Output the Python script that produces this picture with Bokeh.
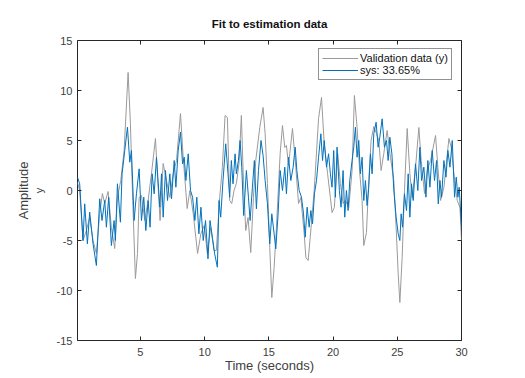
from bokeh.plotting import figure
from bokeh.models import Range1d, LinearAxis, FixedTicker, Title, Legend, LegendItem, PrintfTickFormatter
from bokeh.embed import file_html
from bokeh.resources import INLINE

# ---- data ----
gray_t = [0.1, 0.27, 0.53, 0.79, 1.05, 1.31, 1.57, 1.83, 2.04, 2.22, 2.48, 2.74, 3.00, 3.21, 3.47,
          3.73, 4.04, 4.22, 4.40, 4.61, 4.77, 4.90, 5.08, 5.34, 5.60, 5.86, 6.17, 6.38, 6.53, 6.77,
          7.03, 7.29, 7.55, 7.81, 8.12, 8.33, 8.64, 8.85, 9.11, 9.45, 9.71, 9.97, 10.21, 10.47,
          10.73, 10.91, 11.17, 11.38, 11.59, 11.77, 11.95, 12.11, 12.29, 12.47, 12.68, 12.86,
          13.02, 13.20, 13.38, 13.59, 13.80, 13.98, 14.29, 14.55, 14.71, 14.89, 15.07, 15.23,
          15.41, 15.59, 15.88, 16.06, 16.24, 16.37, 16.53, 16.84, 17.10, 17.31, 17.49, 17.75,
          17.88, 18.06, 18.22, 18.53, 18.87, 19.10, 19.31, 19.57, 19.79, 19.92, 20.10, 20.36,
          20.57, 20.78, 20.96, 21.22, 21.48, 21.66, 21.87, 22.08, 22.26, 22.39, 22.60, 22.78,
          22.96, 23.17, 23.38, 23.56, 23.74, 23.95, 24.21, 24.47, 24.73, 24.91, 25.07, 25.20,
          25.38, 25.56, 25.77, 25.98, 26.16, 26.42, 26.68, 26.86, 27.12, 27.33, 27.59, 27.98,
          28.16, 28.37, 28.63, 29.02, 29.20, 29.46, 29.67, 29.88, 30.0]
gray_v = [0.8, 0.0, -5.0, -4.0, -2.7, -5.0, -6.3, -2.3, -0.3, -1.3, -0.1, -3.7, -5.8, -0.7, 1.0,
          4.0, 11.8, 6.7, -1.0, -8.8, -6.3, -0.7, -0.5, -3.0, -1.0, 1.7, 5.2, 0.3, -3.0, 2.7,
          1.0, -0.7, 1.7, 3.0, 7.7, 3.3, -1.8, 0.0, -2.3, -6.3, -4.3, -3.5, -6.3, -3.7,
          -6.0, -6.0, -0.7, 2.3, 7.5, 7.3, -1.0, -1.3, 0.0, 0.7, 2.7, 7.5,
          1.0, -4.0, -2.7, -6.2, -0.7, 3.0, 6.3, 8.3, 5.7, 0.7, -5.7, -10.7,
          -7.7, -3.7, 3.7, 6.5, 4.3, 4.5, 2.5, 6.2, 2.3, -1.3, -0.7, -4.3,
          -6.7, -7.0, -4.7, 0.0, 7.2, 9.3, 4.7, 1.7, -0.7, -2.2, -1.7, 3.7,
          0.7, -1.3, -1.0, -1.7, 2.0, 9.5, 6.3, 1.7, -1.0, -5.5, -4.2, 1.0,
          5.0, 6.4, 5.7, 5.0, 2.0, 3.7, 6.0, 3.3, 1.0, -3.7, -8.3, -11.2,
          -6.7, 0.0, 6.2, 1.7, -0.7, 2.3, 6.3, 3.0, -0.3, 2.0, 3.0, 5.5,
          2.3, -1.0, 0.3, 5.2, 4.3, 1.0, -1.0, -1.7, -5.0]

blue_t = [0.1, 0.27, 0.53, 0.66, 0.87, 1.05, 1.31, 1.57, 1.83, 2.01, 2.22, 2.35, 2.53, 2.74, 2.95,
          3.05, 3.21, 3.44, 3.57, 3.78, 3.99, 4.17, 4.30, 4.51, 4.69, 4.90, 5.08, 5.26, 5.42,
          5.60, 5.75, 5.91, 6.07, 6.25, 6.51, 6.64, 6.77, 6.95, 7.11, 7.29, 7.42, 7.63, 7.76,
          7.94, 8.12, 8.28, 8.41, 8.54, 8.72, 8.90, 9.06, 9.24, 9.39, 9.55, 9.71, 9.89, 10.07,
          10.26, 10.42, 10.60, 10.78, 10.99, 11.12, 11.25, 11.43, 11.64, 11.82, 11.95, 12.08,
          12.21, 12.37, 12.47, 12.63, 12.76, 12.89, 13.04, 13.25, 13.41, 13.54, 13.72, 13.87,
          14.03, 14.19, 14.39, 14.55, 14.71, 14.89, 15.07, 15.23, 15.41, 15.54, 15.72, 15.88,
          16.06, 16.24, 16.37, 16.53, 16.71, 16.89, 17.05, 17.18, 17.36, 17.54, 17.70, 17.83,
          17.98, 18.14, 18.27, 18.40, 18.55, 18.71, 18.87, 19.05, 19.18, 19.31, 19.49, 19.65,
          19.79, 19.92, 20.05, 20.18, 20.31, 20.49, 20.62, 20.78, 20.91, 21.04, 21.17, 21.30,
          21.48, 21.61, 21.74, 21.87, 22.0, 22.13, 22.26, 22.39, 22.52, 22.65, 22.78, 22.91,
          23.04, 23.17, 23.35, 23.51, 23.64, 23.82, 24.0, 24.16, 24.29, 24.42, 24.58, 24.73,
          24.91, 25.07, 25.20, 25.30, 25.41, 25.56, 25.72, 25.85, 25.98, 26.11, 26.24, 26.42,
          26.60, 26.76, 26.89, 27.07, 27.23, 27.38, 27.54, 27.72, 27.90, 28.06, 28.19, 28.32,
          28.45, 28.63, 28.79, 28.94, 29.10, 29.28, 29.46, 29.59, 29.72, 29.82, 30.0]
blue_v = [1.33, 0.67, -5.0, -1.33, -5.33, -2.17, -5.33, -7.5, -0.83, -3.0, -1.0, -3.67, -0.67, -5.5, -3.0,
          -5.0, 0.67, -3.17, 1.67, 4.0, 6.33, 2.83, 4.0, -3.0, -0.33, 2.17, -3.0, -0.67, -4.0,
          -1.0, -3.67, 1.67, -0.33, 3.33, -1.67, 1.67, -2.67, 2.0, -1.0, 1.67, -0.83, 3.0, 0.33,
          4.0, 5.83, 2.67, 3.33, 1.0, 3.67, 0.0, -0.67, -3.0, -0.67, -4.33, -1.67, -5.0, -3.0,
          -6.83, -3.0, -4.67, -6.33, -7.67, -1.0, -2.67, 1.0, 4.67, 1.67, -0.67, 3.0,
          0.67, 3.67, 1.67, 3.0, 5.0, 2.33, -2.5, 2.0, -0.67, -3.0, 0.33, 3.0,
          -1.83, 2.0, 5.0, 3.5, 1.0, -1.33, -5.33, -2.33, -4.33, -5.83, -2.33, 2.0,
          0.0, 2.33, -0.33, 3.33, 1.0, 2.33, 4.33, 2.0, 0.0, -0.67, -2.33, -4.67,
          -1.67, -3.67, -2.0, -3.33, -0.33, 1.0, 3.33, 5.67, 3.0, 5.0, 2.33, 3.67,
          1.67, 0.33, 4.0, -0.67, 4.33, 0.0, -1.67, 2.0, -2.67, 0.0, -2.0, 1.0,
          3.0, 4.33, 6.33, 3.33, 5.0, 1.67, 3.33, -1.0, 1.0, -1.5, 0.33, 3.67,
          1.67, 5.67, 6.83, 4.33, 5.33, 7.17, 4.33, 5.0, 3.0, 5.33, 3.67, 0.0,
          -2.67, -4.33, -5.0, -2.33, -3.67, -0.33, -2.0, 1.67, -2.67, 0.67, -1.0, 2.67,
          0.0, 4.33, 1.0, 2.33, -0.67, 3.0, 0.33, 4.0, 1.0, 3.0, -1.33, 1.0,
          -0.67, 3.0, 1.33, 4.0, 2.33, 5.0, -0.67, 1.33, -0.67, 0.33, -3.67]

x_ticks = [5, 10, 15, 20, 25, 30]
y_ticks = [-15, -10, -5, 0, 5, 10, 15]
legend_labels = ["Validation data (y)", "sys: 33.65%"]

FONT = "Liberation Sans"
AX = "#262626"
TXT = "#404040"

p = figure(frame_width=384, frame_height=300,
           x_range=Range1d(0.1, 30), y_range=Range1d(-15, 15),
           output_backend="svg", toolbar_location=None,
           min_border_left=77, min_border_right=45, min_border_top=40, min_border_bottom=26,
           background_fill_color="white", border_fill_color="white")

p.title.text = "Fit to estimation data"
p.title.align = "center"
p.title.text_font = FONT
p.title.text_font_size = "11.5px"
p.title.text_font_style = "bold"
p.title.text_color = "#111111"
p.title.standoff = 22
p.title.offset = 0

p.grid.visible = False
p.outline_line_color = AX
p.outline_line_width = 1
p.outline_line_alpha = 1

for ax, tk in ((p.xaxis[0], x_ticks), (p.yaxis[0], y_ticks)):
    ax.ticker = FixedTicker(ticks=tk)
    ax.formatter = PrintfTickFormatter(format="%d")
    ax.axis_line_color = None
    ax.major_tick_in = 4
    ax.major_tick_out = 0
    ax.major_tick_line_color = AX
    ax.minor_tick_line_color = None
    ax.major_label_text_font = FONT
    ax.major_label_text_font_size = "11px"
    ax.major_label_text_color = TXT
    ax.axis_label_text_font = FONT
    ax.axis_label_text_font_style = "normal"
    ax.axis_label_text_color = TXT

p.xaxis[0].major_label_standoff = 7
p.xaxis[0].axis_label = "Time (seconds)"
p.xaxis[0].axis_label_text_font_size = "13px"
p.xaxis[0].axis_label_standoff = -1
p.yaxis[0].major_label_standoff = 5
p.yaxis[0].axis_label = "y"
p.yaxis[0].axis_label_text_font_size = "11px"
p.yaxis[0].axis_label_standoff = 9

for loc, tk in (("above", x_ticks), ("right", y_ticks)):
    a = LinearAxis(ticker=FixedTicker(ticks=tk), axis_line_color=None,
                   major_tick_in=4, major_tick_out=0, major_tick_line_color=AX,
                   minor_tick_line_color=None, major_label_text_font_size="0px",
                   major_label_standoff=0)
    p.add_layout(a, loc)

p.add_layout(Title(text="Amplitude", align="center", text_font=FONT,
                   text_font_size="13px", text_font_style="normal",
                   text_color=TXT, standoff=-3, offset=0), "left")

r_gray = p.line(gray_t, gray_v, line_color="#9a9a9a", line_width=1)
r_blue = p.line(blue_t, blue_v, line_color="#0072BD", line_width=1)

legend = Legend(items=[LegendItem(label=legend_labels[0], renderers=[r_gray]),
                       LegendItem(label=legend_labels[1], renderers=[r_blue])],
                location=(241, 260), margin=0, padding=3, spacing=0,
                label_height=12, glyph_height=12, glyph_width=36, label_standoff=2,
                label_text_font=FONT, label_text_font_size="11px", label_text_color="#111111",
                border_line_color=AX, border_line_width=1, background_fill_color="white",
                background_fill_alpha=1)
p.add_layout(legend, "center")

open("out.html", "w").write(file_html(p, INLINE))
